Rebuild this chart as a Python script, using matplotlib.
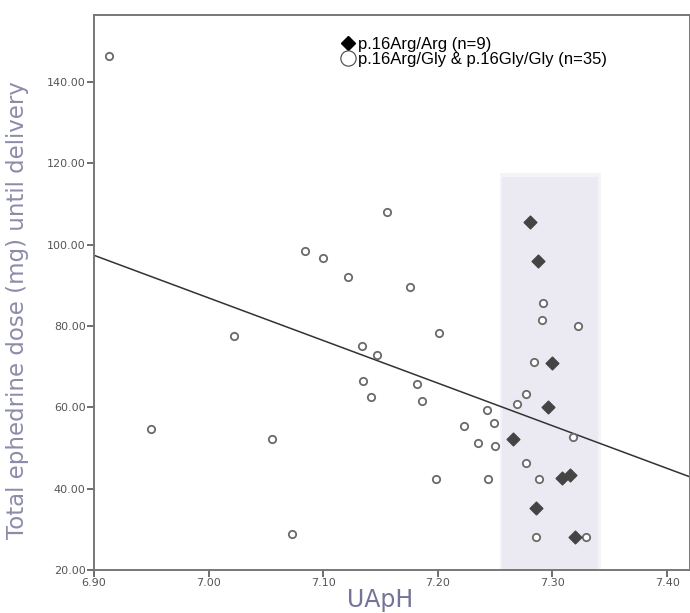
import matplotlib.pyplot as plt
from matplotlib.lines import Line2D

# UApH and ephedrine dose, p.16Arg/Gly & p.16Gly/Gly (open circles)
gly_uaph = [6.913, 7.022, 6.950, 7.055, 7.073, 7.084, 7.100, 7.122, 7.156, 7.176,
            7.201, 7.134, 7.147, 7.135, 7.142, 7.182, 7.186, 7.243, 7.223, 7.235,
            7.198, 7.244, 7.249, 7.250, 7.292, 7.291, 7.322, 7.284, 7.277, 7.269,
            7.318, 7.277, 7.288, 7.286, 7.329]
gly_dose = [146.3, 77.5, 54.6, 52.1, 28.9, 98.4, 96.8, 92.0, 108.0, 89.6,
            78.4, 75.2, 72.8, 66.5, 62.5, 65.7, 61.6, 59.3, 55.3, 51.3,
            42.4, 42.4, 56.1, 50.4, 85.6, 81.6, 80.1, 71.2, 63.3, 60.9,
            52.7, 46.4, 42.4, 28.1, 28.1]

# p.16Arg/Arg (filled diamonds)
arg_uaph = [7.280, 7.287, 7.300, 7.296, 7.266, 7.308, 7.315, 7.286, 7.320]
arg_dose = [105.6, 96.0, 71.0, 60.0, 52.1, 42.6, 43.3, 35.3, 28.1]

# fit line and shaded band
fit_x = [6.90, 7.42]
fit_y = [97.4, 42.9]
band_x = [7.256, 7.340]
band_top = 116.7

fig = plt.figure(figsize=(6.9, 6.13), dpi=100)
ax = fig.add_axes([94 / 690, 1 - 570 / 613, 1 - 94 / 690, (570 - 15) / 613])

# soft lavender band
ax.fill_between([band_x[0] - 0.002, band_x[1] + 0.002], 20, band_top + 1,
                color='#ebeaf3', alpha=0.5, lw=0, zorder=0)
ax.fill_between(band_x, 20, band_top, color='#ebeaf3', lw=0, zorder=0)

ax.plot(fit_x, fit_y, color='#333333', lw=1.1, zorder=2)
ax.scatter(gly_uaph, gly_dose, s=28, facecolors='white', edgecolors='#6a6a6a',
           linewidths=1.3, zorder=3)
ax.scatter(arg_uaph, arg_dose, s=42, marker='D', color='#444444', zorder=4)

ax.set_xlim(6.90, 7.42)
ax.set_ylim(20, 156.5)
ax.set_xticks([6.9, 7.0, 7.1, 7.2, 7.3, 7.4])
ax.set_yticks([20, 40, 60, 80, 100, 120, 140])
ax.xaxis.set_major_formatter(plt.FormatStrFormatter('%.2f'))
ax.yaxis.set_major_formatter(plt.FormatStrFormatter('%.2f'))

for s in ax.spines.values():
    s.set_color('#777777')
    s.set_linewidth(1.4)
ax.tick_params(length=5, width=1.2, color='#555555', labelsize=8,
               labelcolor='#555555', pad=1)
for lab in ax.get_xticklabels() + ax.get_yticklabels():
    lab.set_family(['Liberation Sans Narrow', 'DejaVu Sans'])

fig.text(0.025, 0.495, 'Total ephedrine dose (mg) until delivery', rotation=90,
         ha='center', va='center', fontsize=16.5, color='#8c8cab',
         family='DejaVu Sans')
fig.text(380 / 690, 1 - 600 / 613, 'UApH', ha='center', va='center',
         fontsize=17, color='#74749a', family='DejaVu Sans')

handles = [Line2D([], [], marker='D', color='black', ls='', markersize=7.5),
           Line2D([], [], marker='o', markerfacecolor='white', markeredgecolor='#444444',
                  markeredgewidth=0.8, ls='', markersize=11)]
ax.legend(handles, ['p.16Arg/Arg (n=9)', 'p.16Arg/Gly & p.16Gly/Gly (n=35)'],
          loc='upper left', bbox_to_anchor=(0.402, 0.973), frameon=False,
          handletextpad=0.15, labelspacing=0.0, handlelength=0.9,
          borderaxespad=0, prop={'family': 'Liberation Sans', 'size': 12})

plt.savefig('out.png', dpi=100)
